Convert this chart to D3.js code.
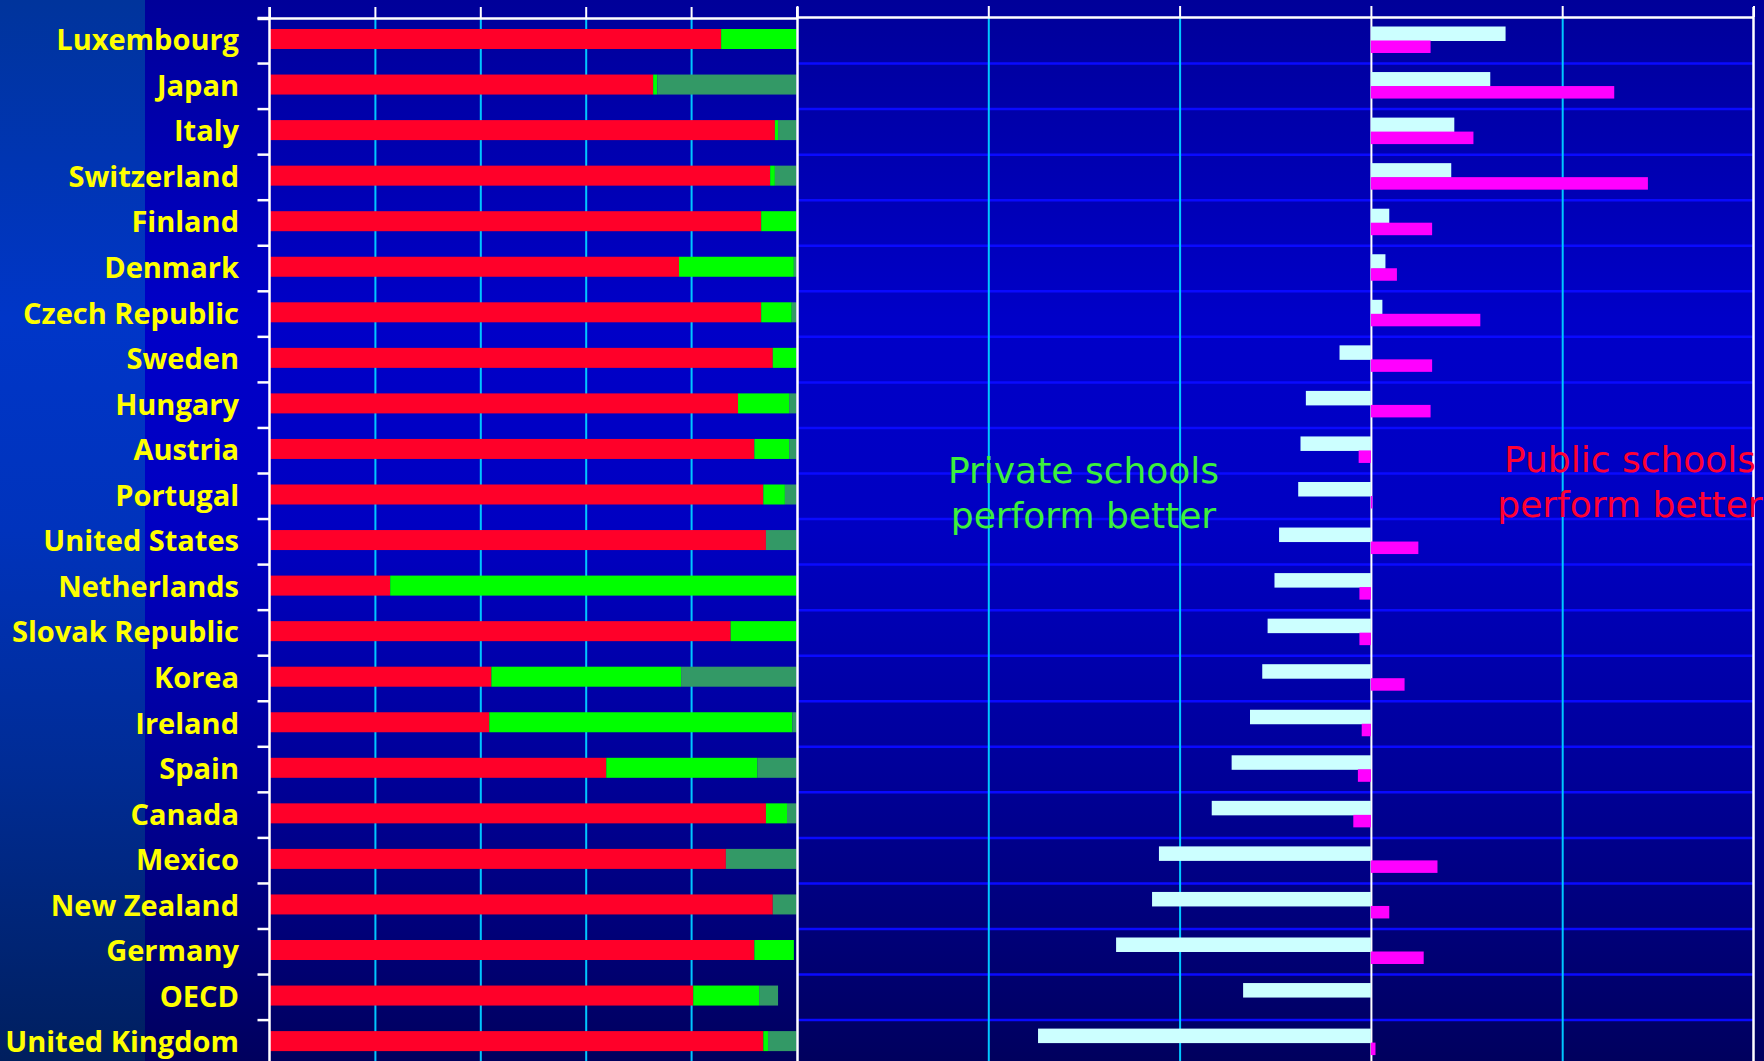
<!DOCTYPE html>
<html>
<head>
<meta charset="utf-8">
<script src="https://cdn.jsdelivr.net/npm/d3@7"></script>
<style>
  html, body { margin: 0; padding: 0; background: #000099; overflow: hidden; }
  svg { display: block; }
</style>
</head>
<body>
<svg id="chart" width="1764" height="1061"></svg>
<script>
// Countries, top to bottom
const countries = ["Luxembourg", "Japan", "Italy", "Switzerland", "Finland", "Denmark",
  "Czech Republic", "Sweden", "Hungary", "Austria", "Portugal", "United States",
  "Netherlands", "Slovak Republic", "Korea", "Ireland", "Spain", "Canada", "Mexico",
  "New Zealand", "Germany", "OECD", "United Kingdom"];

// Share of students (%) by school type
const publicShare       = [85.7, 72.8, 95.9, 95.0, 93.3, 77.7, 93.3, 95.5, 88.9, 92.0, 93.7, 94.2, 22.9, 87.5, 42.1, 41.7, 63.9, 94.2, 86.6, 95.5, 92.0, 80.4, 93.7];
const govDependentShare = [14.3,  0.8,  0.6,  0.9,  6.7, 21.8,  5.8,  4.5,  9.7,  6.6,  4.1,  0.0, 77.1, 12.5, 36.0, 57.5, 28.7,  4.0,  0.0,  0.0,  7.5, 12.5,  0.9];
const independentShare  = [ 0.0, 26.4,  3.5,  4.1,  0.0,  0.5,  0.9,  0.0,  1.4,  1.4,  2.2,  5.8,  0.0,  0.0, 21.9,  0.8,  7.4,  1.8, 13.4,  4.5,  0.0,  3.6,  5.4];

// Score difference, public minus private (positive: public schools ahead)
const observedGap = [17.6, 15.6, 10.9, 10.5, 2.4, 1.9, 1.5, -4.1, -8.5, -9.2, -9.5, -12.0, -12.6, -13.5, -14.2, -15.8, -18.2, -20.8, -27.7, -28.6, -33.3, -16.7, -43.5];
const adjustedGap = [7.8, 31.8, 13.4, 36.2, 8.0, 3.4, 14.3, 8.0, 7.8, -1.6, 0.2, 6.2, -1.5, -1.5, 4.4, -1.2, -1.7, -2.3, 8.7, 2.4, 6.9, null, 0.6];

// Axis ticks
const shareTicks = [0, 20, 40, 60, 80, 100];
const gapTicks = [-75, -50, -25, 0, 25, 50];

const W = 1764, H = 1061;
const svg = d3.select("#chart");
const defs = svg.append("defs");

// Background gradients
const bgGrad = defs.append("linearGradient").attr("id", "bg").attr("x1", 0).attr("y1", 0).attr("x2", 0).attr("y2", 1);
[[0, "#000099"], [0.3, "#0000c8"], [0.5, "#0000c2"], [0.72, "#00009a"], [1, "#00005e"]]
  .forEach(([o, c]) => bgGrad.append("stop").attr("offset", o).attr("stop-color", c));
const stripGrad = defs.append("linearGradient").attr("id", "strip").attr("x1", 0).attr("y1", 0).attr("x2", 0).attr("y2", 1);
[[0, "#00349c"], [0.3, "#0036c8"], [0.5, "#0033bc"], [0.72, "#002c96"], [1, "#001f5e"]]
  .forEach(([o, c]) => stripGrad.append("stop").attr("offset", o).attr("stop-color", c));

svg.append("rect").attr("width", W).attr("height", H).attr("fill", "url(#bg)");
svg.append("rect").attr("width", 145).attr("height", H).attr("fill", "url(#strip)");

// Scales
const topY = 18, band = 45.55;
const y = d3.scaleBand().domain(countries).range([topY, topY + band * countries.length]);
const xShare = d3.scaleLinear().domain([0, 100]).range([269.5, 796.5]);
const xGap = d3.scaleLinear().domain([-75, 50]).range([797, 1753.5]);

// Horizontal separators in the right panel
const sepAxis = d3.axisRight(y).tickValues(countries.slice(1)).tickSize(xGap.range()[1] - xGap.range()[0]).tickFormat("");
const sep = svg.append("g").attr("transform", `translate(${xGap.range()[0]},${-band / 2})`).call(sepAxis);
sep.select(".domain").remove();
sep.selectAll("line").attr("stroke", "#0a0aff").attr("stroke-width", 2.5);

// Vertical gridlines
const gridShare = svg.append("g").attr("transform", `translate(0,${topY})`)
  .call(d3.axisBottom(xShare).tickValues(shareTicks.slice(1, -1)).tickSize(H - topY).tickFormat(""));
gridShare.select(".domain").remove();
gridShare.selectAll("line").attr("stroke", "#00c8ff").attr("stroke-width", 2);

const gridGap = svg.append("g").attr("transform", `translate(0,${topY})`)
  .call(d3.axisBottom(xGap).tickValues(gapTicks.slice(1, -1)).tickSize(H - topY).tickFormat(""));
gridGap.select(".domain").remove();
gridGap.selectAll("line").attr("stroke", d => d === 0 ? "#ffffff" : "#00c8ff").attr("stroke-width", 2);

// Stacked share bars
const rows = countries.map((c, i) => ({ country: c, pub: publicShare[i], gov: govDependentShare[i], ind: independentShare[i] }));
const stack = d3.stack().keys(["pub", "gov", "ind"])(rows);
const shareColors = { pub: "#ff0029", gov: "#00ff00", ind: "#339966" };
svg.append("g").selectAll("g").data(stack).join("g")
  .attr("fill", s => shareColors[s.key])
  .selectAll("rect").data(s => s).join("rect")
  .attr("x", d => xShare(d[0]))
  .attr("width", d => Math.max(0, xShare(d[1]) - xShare(d[0])))
  .attr("y", d => y(d.data.country) + 11)
  .attr("height", 20);

// Performance gap bars
svg.append("g").selectAll("rect").data(countries.map((c, i) => ({ c, v: observedGap[i] }))).join("rect")
  .attr("x", d => xGap(Math.min(0, d.v)))
  .attr("width", d => Math.abs(xGap(d.v) - xGap(0)))
  .attr("y", d => y(d.c) + 8.5)
  .attr("height", 14.5)
  .attr("fill", "#ccffff");

svg.append("g").selectAll("rect").data(countries.map((c, i) => ({ c, v: adjustedGap[i] })).filter(d => d.v !== null)).join("rect")
  .attr("x", d => xGap(Math.min(0, d.v)))
  .attr("width", d => Math.abs(xGap(d.v) - xGap(0)))
  .attr("y", d => y(d.c) + 22.5)
  .attr("height", 12.5)
  .attr("fill", "#ff00ff");

// Top axis with upward ticks
const topShare = svg.append("g").attr("transform", `translate(0,${topY})`)
  .call(d3.axisTop(xShare).tickValues(shareTicks).tickSize(11).tickSizeOuter(0).tickFormat(""));
const topGap = svg.append("g").attr("transform", `translate(0,${topY - 1})`)
  .call(d3.axisTop(xGap).tickValues(gapTicks).tickSize(11).tickSizeOuter(0).tickFormat(""));
[topShare, topGap].forEach(g => {
  g.select(".domain").attr("stroke", "#ffffff").attr("stroke-width", 2.5);
  g.selectAll("line").attr("stroke", "#ffffff").attr("stroke-width", 2);
});

// Panel edges
svg.append("g").selectAll("line").data([xShare(0), xShare(100) + 1, xGap(50)]).join("line")
  .attr("x1", d => d).attr("x2", d => d)
  .attr("y1", 7).attr("y2", H)
  .attr("stroke", "#ffffff").attr("stroke-width", 2.5);

// Left axis with category ticks and labels
const leftAxis = svg.append("g").attr("transform", `translate(${xShare(0)},${-band / 2})`)
  .call(d3.axisLeft(y).tickSize(12).tickFormat(""));
leftAxis.select(".domain").remove();
leftAxis.selectAll("line").attr("stroke", "#ffffff").attr("stroke-width", 2.5);
svg.append("line").attr("x1", xShare(0) - 12).attr("x2", xShare(0)).attr("y1", topY + 1).attr("y2", topY + 1)
  .attr("stroke", "#ffffff").attr("stroke-width", 2.5);

svg.append("g").selectAll("text").data(countries).join("text")
  .attr("x", 239)
  .attr("y", d => y(d) + band / 2 + 9.5)
  .attr("text-anchor", "end")
  .attr("font-family", "'Comic Sans MS', 'Open Sans', sans-serif")
  .attr("font-weight", "bold")
  .attr("font-size", 29)
  .attr("fill", "#ffff00")
  .text(d => d);

// Annotations, each a two-line text block
const notes = [
  { lines: ["Private schools", "perform better"], x: 1083.5, y: 483, color: "#3cf03c" },
  { lines: ["Public schools", "perform better"], x: 1630, y: 472, color: "#ff0033" }
];
notes.forEach(n => {
  svg.append("text")
    .attr("x", n.x)
    .attr("y", n.y)
    .attr("text-anchor", "middle")
    .attr("font-family", "'Comic Sans MS', 'DejaVu Sans', sans-serif")
    .attr("font-size", 36)
    .attr("fill", n.color)
    .selectAll("tspan").data(n.lines).join("tspan")
    .attr("x", n.x)
    .attr("dy", (d, i) => i === 0 ? 0 : 45)
    .text(d => d);
});
</script>
</body>
</html>
